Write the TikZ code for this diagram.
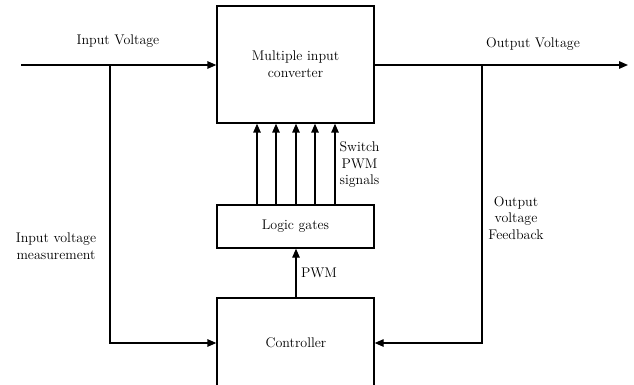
\documentclass[tikz,border=0pt]{standalone}
\usetikzlibrary{arrows.meta}
\begin{document}
\begin{tikzpicture}[x=1pt,y=-1pt,
  blk/.style={draw,line width=1.4pt,minimum width=157pt,inner sep=0pt,align=center,font=\fontsize{14}{17}\selectfont},
  lbl/.style={align=center,inner sep=0pt,font=\fontsize{14}{16.5}\selectfont},
  wire/.style={line width=1.4pt},
  arr/.style={wire,-{Triangle[length=9pt,width=7.5pt]}}]
\useasboundingbox (0,0) rectangle (634,385);
\clip (0,0) rectangle (634,385);
\node[blk,minimum height=117pt] (conv) at (295.5,64.5) {Multiple input\\converter};
\node[blk,minimum height=43pt] (logic) at (295.5,226.5) {Logic gates};
\node[blk,minimum height=100pt] (ctrl) at (295.5,348) {};
\node[lbl] (ctrltxt) at (296,343) {Controller};
\coordinate (inL) at (21,65);
\coordinate (inJ) at (110,65);
\coordinate (outR) at (628,65);
\coordinate (outJ) at (482,65);
\draw[arr] (inL) -- (inJ) -- (conv.west |- inJ);
\draw[arr] (conv.east |- outJ) -- (outR);
\draw[arr] (inJ) |- (ctrl.west |- 0,343);
\draw[arr] (outJ) |- (ctrl.east |- 0,343);
\foreach \x in {257,276,296,315,335}
  \draw[arr] (logic.north -| \x,0) -- (conv.south -| \x,0);
\draw[arr] (ctrl.north -| 296,0) -- (logic.south -| 296,0);
\node[lbl] (tin) at (118,41) {Input Voltage};
\node[lbl] (tout) at (533,44) {Output Voltage};
\node[lbl] (tsw) at (359.5,165) {Switch\\PWM\\signals};
\node[lbl] (tpwm) at (319,273) {PWM};
\node[lbl] (tmeas) at (56,246) {Input voltage\\measurement};
\node[lbl] (tfb) at (516,218) {Output\\voltage\\Feedback};
\end{tikzpicture}
\end{document}
